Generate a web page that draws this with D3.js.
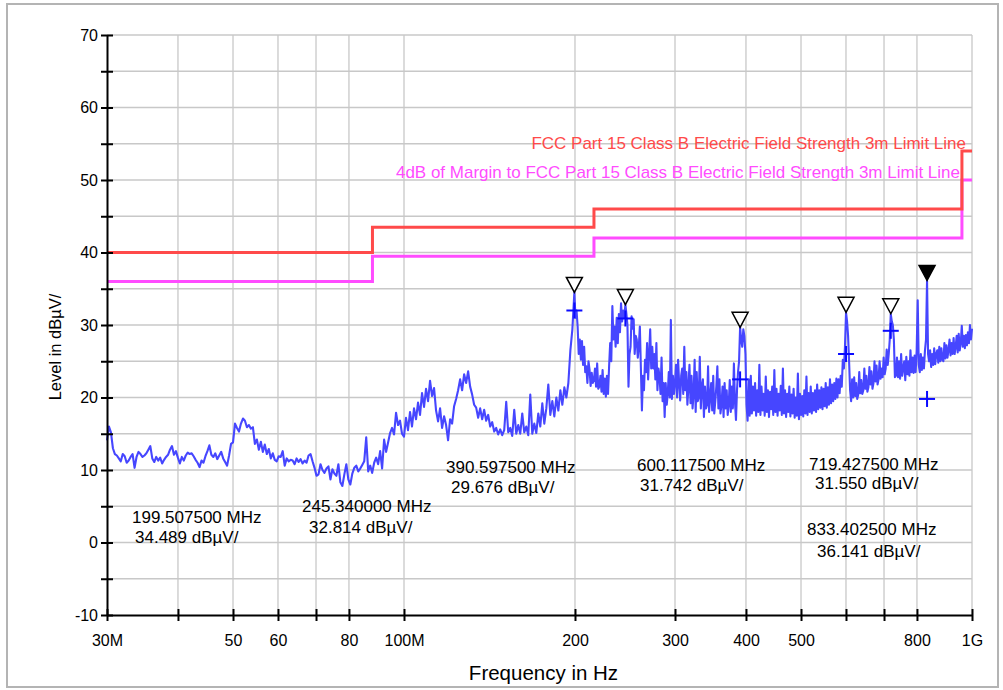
<!DOCTYPE html>
<html><head><meta charset="utf-8">
<script src="https://cdn.jsdelivr.net/npm/d3@7"></script>
<style>
body{margin:0;background:#fff;}
svg text{font-family:"Liberation Sans",Arial,Helvetica,sans-serif;fill:#000;}
</style>
</head><body>
<svg id="chart" width="1003" height="690"></svg>
<script>
// ---------------- DATA ----------------
const yTickValues = [-10,0,10,20,30,40,50,60,70];
const yMinorValues = [-5,5,15,25,35,45,55,65];
const xGridMHz = [40,50,60,70,80,100,200,300,400,500,600,700,800,1000];
const xTickMHz = [30,40,50,60,70,80,100,200,300,400,500,600,700,800,1000];
const xLabelMHz = [30,50,60,80,100,200,300,400,500,800,1000];
const xLabelText = ["30M","50","60","80","100M","200","300","400","500","800","1G"];

const limitFreq = [30,88,216,960,1000];
const limitLevel = [40,43.5,46,54,54];
const marginDb = 4;
const limitName = "FCC Part 15 Class B Electric Field Strength 3m Limit Line";
const marginName = "4dB of Margin to FCC Part 15 Class B Electric Field Strength 3m Limit Line";

const markerFreq = [199.5075,245.34,390.5975,600.1175,719.4275,833.4025];
const markerLevel = [34.489,32.814,29.676,31.742,31.550,36.141];
const markerFilled = [false,false,false,false,false,true];
const qpLevel = [32.0,30.9,22.5,26.0,29.2,19.8];

// trace segments (start MHz, end MHz) and levels
const segStart = [30,50,100,199.5075,245.34,390.5975,600.1175,719.4275,833.4025];
const segEnd   = [50,100,199.5075,245.34,390.5975,600.1175,719.4275,833.4025,1000];
const traceA = [14.1,16.0,15.2,13.0,12.2,12.0,11.6,11.2,12.2,11.9,11.0,11.3,11.8,12.2,10.3,11.8,12.5,12.2,11.8,12.0,12.3,12.8,13.3,11.6,11.1,11.8,11.3,11.7,10.9,11.4,11.8,12.1,12.8,13.3,12.1,12.6,11.7,10.9,11.8,11.3,12.0,12.4,12.2,12.3,11.9,11.4,11.0,10.4,11.3,11.0,11.9,12.6,13.4,12.1,11.8,12.3,11.5,12.0,12.5,11.6,11.1,10.6,12.0,13.6];
const traceB = [13.8,16.4,15.8,15.3,16.4,17.1,16.8,15.9,16.2,15.7,15.9,13.6,14.2,12.8,13.9,12.5,13.5,12.2,12.9,11.6,12.3,11.4,11.2,11.9,11.8,12.6,10.6,11.6,11.2,11.4,11.3,10.8,11.6,11.1,11.5,10.9,11.3,11.0,12.0,12.2,11.2,10.3,9.2,9.4,10.8,10.0,9.6,10.2,10.5,8.7,10.1,9.5,9.2,10.8,8.3,7.8,9.4,10.8,8.7,8.0,9.5,10.3,10.6,9.8,10.2,10.7,11.2,14.5,9.8,10.6,9.6,11.0,11.7,10.8,12.6,10.2,14.2,12.5,13.8,15.1,15.8,14.9,17.9,16.2,16.8,15.0];
const traceC = [14.6,17.2,15.5,18.0,16.0,18.5,17.0,19.3,17.6,20.6,18.7,21.2,19.5,22.3,20.2,21.3,18.2,16.7,18.5,15.8,17.4,16.2,14.1,17.0,16.4,18.8,19.8,21.0,22.5,21.0,23.2,22.0,23.6,21.5,20.4,19.0,18.6,17.2,18.5,17.0,18.3,16.8,17.6,16.0,16.6,15.3,15.8,14.9,15.6,14.8,15.5,19.4,15.2,15.8,14.7,18.3,15.0,16.2,15.0,17.8,15.2,16.0,14.8,20.4,15.0,16.4,15.1,17.8,16.0,19.2,16.4,18.5,21.8,17.6,19.5,17.4,20.0,18.2,21.0,19.0,21.4,20.0,22.0,26.5,29.4];
const traceD0 = [34.5,31.0,32.0,29.8,26.0,28.0,25.2,27.8,24.5,27.0,23.5,24.3,22.0,25.0,23.8,21.6,23.4,22.0,22.4,24.0,21.5,24.7,21.2,21.5,23.0,20.8,23.8,20.5,22.6,20.1,23.0,20.5,24.3,27.5,25.0,32.6,28.0,29.8,27.0,31.0,27.5,31.5,29.0,33.0,30.5,32.0,31.0];
const traceD1 = [32.8,31.5,30.0,21.5,26.0,27.0,31.2,29.5,30.8,26.0,28.5,28.0,25.5,27.0,29.8,24.0,18.2,23.0,21.0,25.2,23.5,27.5,22.5,26.0,29.4,24.0,27.0,24.0,26.0,22.5,27.5,21.0,24.0,22.9,20.5,25.5,19.5,22.0,17.3,22.0,19.0,20.5,23.5,20.0,30.7,19.8,23.0,20.5,22.0,24.5,20.0,25.2,22.0,19.6,23.0,24.0,20.5,27.0,21.0,23.5,19.0,21.5,24.5,19.2,23.0,18.5,20.5,25.2,18.0,23.5,19.5,20.0,25.6,18.5,21.5,22.5,17.3,21.5,18.5,19.0,24.3,18.0,20.0,22.0,18.2,23.0,17.8,19.5,21.5,24.3,18.5,22.5,17.8,19.0,21.5,17.3,22.0,18.5,21.0,17.6,19.0,22.4,18.0,21.5,18.5,24.7,19.5,16.9,21.0,23.5,25.0];
const traceD2 = [29.7,28.0,27.0,29.4,28.5,26.0,19.0,16.8,22.5,17.5,23.0,17.8,21.5,18.2,22.0,17.5,21.0,18.0,24.5,17.6,21.5,18.2,20.5,17.5,22.9,18.0,21.0,17.3,20.8,18.4,21.5,17.6,23.8,18.0,21.2,17.5,20.5,18.2,21.6,17.6,24.0,17.8,21.0,17.3,20.5,18.0,21.5,17.4,20.4,17.8,21.2,17.2,20.0,17.5,23.3,17.0,20.5,17.6,20.2,17.4,21.0,17.8,22.9,17.6,20.6,18.0,21.5,17.8,20.6,18.2,21.0,18.0,21.8,18.4,21.0,18.6,21.4,18.4,21.2,18.8,22.0,18.6,21.4,19.0,22.5,19.2,21.8,19.5,22.0,19.8,22.6,20.0,22.5,20.6,23.0,21.5,25.2,24.0,27.0];
const traceD3 = [31.7,30.5,28.5,25.0,21.0,19.5,22.5,20.0,22.8,20.2,22.0,19.8,20.4,23.5,20.6,22.4,20.5,21.0,24.0,21.2,23.0,20.8,21.4,24.2,21.8,23.6,21.2,22.0,25.0,22.2,24.4,21.8,22.5,25.0,22.6,24.0,22.8,25.5,23.2,24.0,26.6,24.5,26.0,28.0];
const traceD4 = [31.5,30.5,30.0,28.0,22.8,23.0,25.5,22.8,25.0,22.6,26.0,23.0,24.0,25.0,22.4,25.6,23.2,25.0,23.0,26.5,23.5,25.5,23.4,25.8,23.5,26.5,33.4,24.5,23.5,26.0,23.8,25.5,24.0,26.5,28.0];
const traceD5 = [36.1,26.0,25.0,26.5,24.2,26.0,24.5,26.8,24.6,26.0,26.5,24.8,27.0,25.0,26.8,25.2,25.0,27.5,25.4,27.2,25.5,26.5,28.0,25.8,27.5,26.0,28.2,26.0,27.0,28.5,26.2,28.8,26.5,27.5,29.9,27.0,28.5,26.8,28.6,27.2,29.0,27.5,30.0,28.0,29.5];
const traceSegments = [traceA,traceB,traceC,traceD0,traceD1,traceD2,traceD3,traceD4,traceD5];

// ---------------- DRAW ----------------
const svg = d3.select("#chart");
const L = 107, R = 972, T = 35, B = 615;
const x = d3.scaleLog().domain([30,1000]).range([L,R]);
const y = d3.scaleLinear().domain([-10,70]).range([B,T]);

// outer frame
svg.append("rect").attr("x",7).attr("y",4).attr("width",991).attr("height",683)
  .attr("fill","#fff").attr("stroke","#b4b4b4").attr("stroke-width",2);

// grid
const grid = svg.append("g").attr("stroke","#c8c8c8").attr("stroke-width",1.3);
yTickValues.concat(yMinorValues).filter(v=>v>-10).forEach(v=>{
  grid.append("line").attr("x1",L).attr("x2",R).attr("y1",y(v)).attr("y2",y(v));
});
xGridMHz.forEach(f=>{
  grid.append("line").attr("x1",x(f)).attr("x2",x(f)).attr("y1",T).attr("y2",B);
});

// limit lines
const stepLine = d3.line().x(d=>x(d[0])).y(d=>y(d[1])).curve(d3.curveStepAfter);
const limitPts = limitFreq.map((f,i)=>[f,limitLevel[i]]);
const marginPts = limitFreq.map((f,i)=>[f,limitLevel[i]-marginDb]);
svg.append("path").attr("d",stepLine(marginPts)).attr("fill","none")
  .attr("stroke","#ff4cff").attr("stroke-width",3);
svg.append("path").attr("d",stepLine(limitPts)).attr("fill","none")
  .attr("stroke","#ff4a4a").attr("stroke-width",3);

svg.append("text").attr("x",966).attr("y",149).attr("text-anchor","end")
  .style("font-size","17px").style("fill","#ff4a4a").text(limitName);
svg.append("text").attr("x",960).attr("y",178).attr("text-anchor","end")
  .style("font-size","17px").style("fill","#ff4cff").text(marginName);

// trace
const tracePts = [];
traceSegments.forEach((vals,s)=>{
  const f0 = segStart[s], f1 = segEnd[s];
  const last = s === traceSegments.length-1;
  const n = last ? vals.length-1 : vals.length;
  vals.forEach((v,i)=>{
    tracePts.push([f0*Math.pow(f1/f0,i/n), v]);
  });
});
const line = d3.line().x(d=>x(d[0])).y(d=>y(d[1]));
svg.append("path").attr("d",line(tracePts)).attr("fill","none")
  .attr("stroke","#4646ff").attr("stroke-width",2.1).attr("stroke-linejoin","round");

// QP crosses
const cross = svg.append("g").attr("stroke","#0a0aff").attr("stroke-width",2);
markerFreq.forEach((f,i)=>{
  const cx = x(f), cy = y(qpLevel[i]);
  cross.append("line").attr("x1",cx-8).attr("x2",cx+8).attr("y1",cy).attr("y2",cy);
  cross.append("line").attr("x1",cx).attr("x2",cx).attr("y1",cy-8).attr("y2",cy+8);
});

// peak markers (triangles)
markerFreq.forEach((f,i)=>{
  const px = x(f), py = y(markerLevel[i]);
  svg.append("path").attr("d",`M${px-8},${py-15}L${px+8},${py-15}L${px},${py}Z`)
    .attr("fill",markerFilled[i]?"#000":"#fff").attr("stroke","#000").attr("stroke-width",1.5)
    .attr("stroke-linejoin","miter");
});

// axes
const yAxis = d3.axisLeft(y).tickValues(yTickValues.concat(yMinorValues))
  .tickSizeInner(5).tickSizeOuter(0).tickPadding(4)
  .tickFormat(v=>yTickValues.includes(v)?String(v):"");
const gy = svg.append("g").attr("transform",`translate(${L},0)`).call(yAxis);
gy.select(".domain").attr("stroke","#000").attr("stroke-width",2);
gy.selectAll(".tick line").attr("x1",6).attr("x2",-6).attr("stroke","#000").attr("stroke-width",2);
gy.selectAll(".tick text").style("font-size","16px").attr("x",-9);

const xAxis = d3.axisBottom(x).tickValues(xTickMHz)
  .tickSizeInner(5).tickSizeOuter(0).tickPadding(15)
  .tickFormat(f=>{const k=xLabelMHz.indexOf(f);return k>=0?xLabelText[k]:"";});
const gx = svg.append("g").attr("transform",`translate(0,${B})`).call(xAxis);
gx.select(".domain").attr("stroke","#000").attr("stroke-width",2);
gx.selectAll(".tick line").attr("y1",-6).attr("y2",6).attr("stroke","#000").attr("stroke-width",2);
gx.selectAll(".tick text").style("font-size","16px");

// axis titles
svg.append("text").attr("x",(L+R)/2+4).attr("y",680).attr("text-anchor","middle")
  .style("font-size","20.5px").text("Frequency in Hz");
svg.append("text").attr("transform","translate(61,347) rotate(-90)").attr("text-anchor","middle")
  .style("font-size","16.5px").text("Level in dBµV/");

// marker annotations
const labelPos = [[132,523,135,543],[302,512,309,533],[446,473,451,493],[637,471,640,491],[809,470,815,489],[807,535,817,557]];
markerFreq.forEach((f,i)=>{
  const p = labelPos[i];
  svg.append("text").attr("x",p[0]).attr("y",p[1]).style("font-size","17px")
    .text(f.toFixed(6)+" MHz");
  svg.append("text").attr("x",p[2]).attr("y",p[3]).style("font-size","17px")
    .text(markerLevel[i].toFixed(3)+" dBµV/");
});
</script>
</body></html>
